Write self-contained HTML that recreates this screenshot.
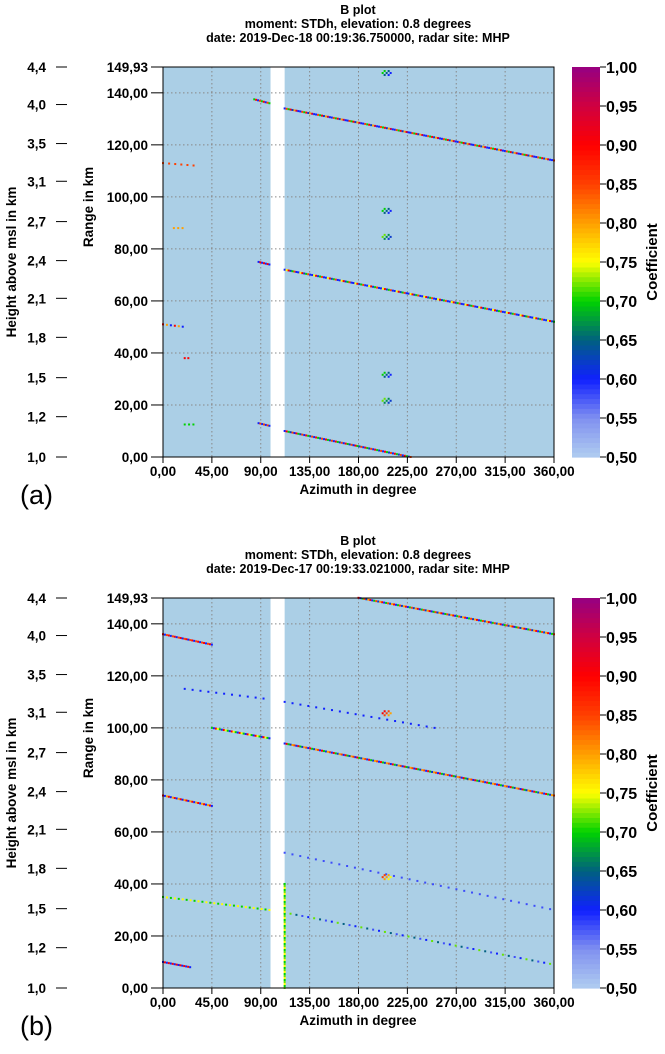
<!DOCTYPE html>
<html><head><meta charset="utf-8"><style>
body{margin:0;background:#fff;}
svg{display:block;font-family:"Liberation Sans",sans-serif;font-weight:bold;}
</style></head><body>
<svg id="s" width="665" height="1054" viewBox="0 0 665 1054"></svg>
<script>
const xTicks=[0,45,90,135,180,225,270,315,360];
const xTickLabels=["0,00","45,00","90,00","135,00","180,00","225,00","270,00","315,00","360,00"];
const rTicks=[0,20,40,60,80,100,120,140];
const rTickLabels=["0,00","20,00","40,00","60,00","80,00","100,00","120,00","140,00"];
const hTickLabels=["4,4","4,0","3,5","3,1","2,7","2,4","2,1","1,8","1,5","1,2","1,0"];
const hTickRanges=[149.93,135.5,120.5,106,90.5,75.5,61,46,30.5,15.5,0];
const cbTicks=[1.0,0.95,0.9,0.85,0.8,0.75,0.7,0.65,0.6,0.55,0.5];
const cbLabels=["1,00","0,95","0,90","0,85","0,80","0,75","0,70","0,65","0,60","0,55","0,50"];
const gapAz=[99,112];
// streaks: [az0, r0, az1, r1]
const streaksA=[[112,134,360,114],[112,72,360,52],[112,10,228,0],[84,137.5,98,136],[0,113,30,112],[0,51,20,50],[88,75,98,74],[88,13,98,12],[20,12.5,30,12.5],[20,38,25,38],[10,88,18,88]];
const streakValsA=[[0.6,0.85,0.7,0.9,0.62,0.8,0.95,0.6],[0.6,0.75,0.9,0.62,0.7,0.85,0.6],[0.6,0.9,0.7,0.62,0.85],[0.7,0.9,0.6,0.85],[0.85,0.6,0.7],[0.9,0.6,0.8],[0.6,0.9],[0.6,0.85],[0.7,0.75],[0.9,0.6],[0.8,0.85]];
const streakGapA=[1,1,1,1,3,2,1,1,2,2,2];
const streaksB=[[180,150,360,136],[0,136,45,132],[45,100,98,96],[112,94,360,74],[0,74,45,70],[20,115,98,111],[112,110,250,100],[0,35,98,30],[112,29,360,9],[0,10,25,8],[112,52,360,30],[112,0,112,40]];
const streakValsB=[[0.9,0.6,0.7,0.85,0.62,0.8],[0.9,0.6,0.85],[0.7,0.6,0.9,0.75],[0.6,0.9,0.7,0.62,0.8,0.85],[0.9,0.6,0.8],[0.6,0.58],[0.6,0.57],[0.7,0.6,0.75,0.62],[0.6,0.58,0.65,0.72],[0.6,0.9],[0.58,0.6],[0.72,0.7,0.75]];
const streakGapB=[1,1,1,1,1,4,4,2,3,1,4,1];
const blobsA=[[205,148,0.6],[205,95,0.6],[205,85,0.62],[205,32,0.6],[205,22,0.62]];
const blobsB=[[205,106,0.8],[205,43,0.75]];
const panels=[{oy:0,title2:"date: 2019-Dec-18 00:19:36.750000, radar site: MHP",lab:"(a)",streaks:streaksA,vals:streakValsA,gaps:streakGapA,blobs:blobsA},
{oy:531,title2:"date: 2019-Dec-17 00:19:33.021000, radar site: MHP",lab:"(b)",streaks:streaksB,vals:streakValsB,gaps:streakGapB,blobs:blobsB}];
const stops=[[0.5,[176,205,240]],[0.55,[128,144,240]],[0.6,[16,32,255]],[0.65,[0,96,128]],[0.7,[0,210,0]],[0.75,[255,255,0]],[0.8,[255,160,0]],[0.85,[255,64,0]],[0.9,[255,0,0]],[0.95,[208,0,64]],[1.0,[150,0,130]]];
function cmap(v){for(let i=0;i<stops.length-1;i++){if(v<=stops[i+1][0]){const t=(v-stops[i][0])/(stops[i+1][0]-stops[i][0]);const a=stops[i][1],b=stops[i+1][1];return `rgb(${a.map((c,k)=>Math.round(c+(b[k]-c)*t)).join(',')})`;}}return 'rgb(150,0,130)';}
const S=document.getElementById('s');const NS='http://www.w3.org/2000/svg';
function el(t,a,p){const e=document.createElementNS(NS,t);for(const k in a)e.setAttribute(k,a[k]);(p||S).appendChild(e);return e;}
const X0=163,X1=554;
panels.forEach((P,pi)=>{
const Y0=67+P.oy,Y1=457+P.oy;
const g=el('g',{});


const ax=a=>X0+(a/360)*(X1-X0);
const ry=r=>Y1-(r/149.93)*(Y1-Y0);
const tt=["B plot","moment: STDh, elevation: 0.8 degrees",P.title2];
tt.forEach((t,i)=>{const e=el('text',{x:358,y:P.oy+14+i*14,'text-anchor':'middle','font-size':12.5},g);e.textContent=t;
});
const bg=el('rect',{x:X0,y:Y0,width:X1-X0,height:Y1-Y0,fill:'#abcfe6'},g);

const gap=el('rect',{x:ax(gapAz[0]),y:Y0,width:ax(gapAz[1])-ax(gapAz[0]),height:Y1-Y0,fill:'#fff'},g);

xTicks.forEach(v=>{if(v>0&&v<360)el('line',{x1:ax(v),x2:ax(v),y1:Y0,y2:Y1,stroke:'#888','stroke-dasharray':'1.5,2.5','stroke-width':1},g);});
rTicks.forEach(v=>{if(v>0)el('line',{x1:X0,x2:X1,y1:ry(v),y2:ry(v),stroke:'#888','stroke-dasharray':'1.5,2.5','stroke-width':1},g);});
P.streaks.forEach((s,si)=>{const vals=P.vals[si];const gp=P.gaps[si];const n=Math.max(2,Math.round(Math.hypot(ax(s[2])-ax(s[0]),ry(s[3])-ry(s[1]))/2));
for(let i=0;i<=n;i+=gp){const t=i/n;const v=vals[i%vals.length];const r=el('rect',{x:ax(s[0]+(s[2]-s[0])*t)-1,y:ry(s[1]+(s[3]-s[1])*t)-1,width:2,height:2,fill:cmap(v)},g);
}});
P.blobs.forEach(b=>{for(let i=-2;i<=2;i++)for(let j=-1;j<=1;j++){if((i+j)%2)continue;const v=b[2]+((i+j+4)%3)*0.05;const r=el('rect',{x:ax(b[0])+i*2,y:ry(b[1])+j*2,width:2,height:2,fill:cmap(v)},g);
}});
el('rect',{x:X0,y:Y0,width:X1-X0,height:Y1-Y0,fill:'none',stroke:'#000','stroke-width':1},g);
xTicks.forEach((v,i)=>{el('line',{x1:ax(v),x2:ax(v),y1:Y1,y2:Y1+6,stroke:'#000'},g);const e=el('text',{x:ax(v),y:Y1+19,'text-anchor':'middle','font-size':13.5},g);e.textContent=xTickLabels[i];
});
const xt=el('text',{x:358,y:Y1+37,'text-anchor':'middle','font-size':13.5},g);xt.textContent='Azimuth in degree';

rTicks.forEach((v,i)=>{el('line',{x1:X0-12,x2:X0,y1:ry(v),y2:ry(v),stroke:'#000'},g);const e=el('text',{x:X0-15,y:ry(v)+5,'text-anchor':'end','font-size':13.5},g);e.textContent=rTickLabels[i];
});
el('line',{x1:X0-12,x2:X0,y1:Y0,y2:Y0,stroke:'#000'},g);
const tm=el('text',{x:X0-15,y:Y0+5,'text-anchor':'end','font-size':13.5},g);tm.textContent='149,93';

hTickLabels.forEach((l,i)=>{const y=ry(hTickRanges[i]);el('line',{x1:56,x2:67,y1:y,y2:y,stroke:'#000'},g);const e=el('text',{x:46,y:y+5,'text-anchor':'end','font-size':13.5},g);e.textContent=l;
});
const ht=el('text',{transform:`translate(16,${(Y0+Y1)/2}) rotate(-90)`,'text-anchor':'middle','font-size':13.5},g);ht.textContent='Height above msl in km';

const rt=el('text',{transform:`translate(93,${(Y0+Y1)/2-55}) rotate(-90)`,'text-anchor':'middle','font-size':13.5},g);rt.textContent='Range in km';

// colorbar
const CX=572,CW=28;const cy=v=>Y1-((v-0.5)/0.5)*(Y1-Y0);
for(let k=0;k<80;k++){const v0=0.5+k*0.00625;const r=el('rect',{x:CX,y:cy(v0+0.00625),width:CW,height:(Y1-Y0)/80+0.6,fill:cmap(v0+0.003)},g);
}
cbTicks.forEach((v,i)=>{el('line',{x1:CX+CW,x2:CX+CW+6,y1:cy(v),y2:cy(v),stroke:'#000'},g);const e=el('text',{x:CX+CW+6,y:cy(v)+6,'font-size':16},g);e.textContent=cbLabels[i];
});
const ct=el('text',{transform:`translate(657,${(Y0+Y1)/2}) rotate(-90)`,'text-anchor':'middle','font-size':15},g);ct.textContent='Coefficient';

const pl=el('text',{x:20,y:Y1+47,'font-size':27,'font-weight':'normal'},g);pl.textContent=P.lab;

});
</script>
</body></html>
